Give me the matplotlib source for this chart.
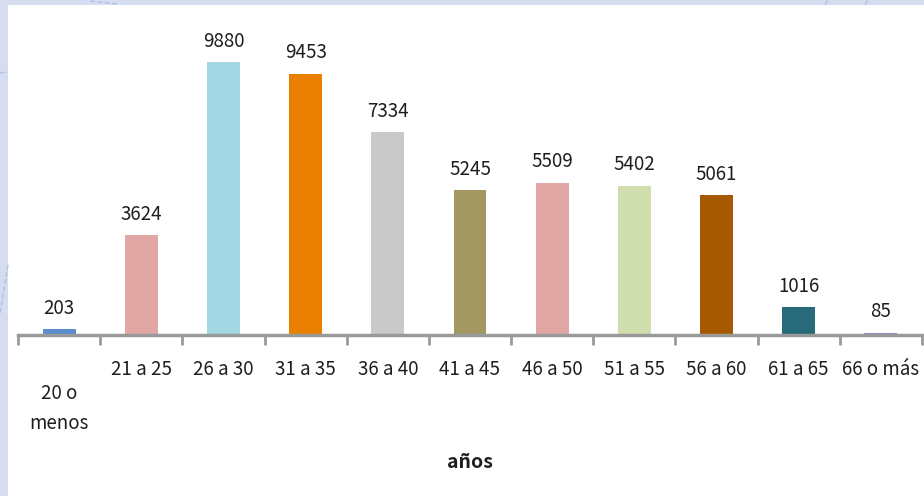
import matplotlib
matplotlib.use('Agg')
import matplotlib.pyplot as plt
import matplotlib.transforms as mtransforms
from matplotlib.patches import Rectangle
from matplotlib.lines import Line2D

categories = ['20 o\nmenos', '21 a 25', '26 a 30', '31 a 35', '36 a 40', '41 a 45',
              '46 a 50', '51 a 55', '56 a 60', '61 a 65', '66 o más']
values = [203, 3624, 9880, 9453, 7334, 5245, 5509, 5402, 5061, 1016, 85]
colors = ['#5b8fcb', '#e2a6a5', '#a4d7e4', '#e98000', '#c9c9c9', '#a39762',
          '#e2a6a5', '#d0ddad', '#a65900', '#276a7a', '#9b7fc7']

plt.rcParams['font.family'] = ['Noto Sans CJK JP', 'DejaVu Sans']

W, H = 924, 496
fig = plt.figure(figsize=(W / 100, H / 100), dpi=100)
fig.patch.set_facecolor('#d6ddf0')

# white panel behind the chart
fig.patches.append(Rectangle((8 / W, 0), 1, 1 - 5 / H, transform=fig.transFigure,
                             facecolor='white', edgecolor='none', zorder=0))
# faint decorative strokes on the background border
for xs, ys in [((90 / W, 118 / W), (1 - 1 / H, 1 - 4 / H)),
               ((0, 8 / W), (1 - 73 / H, 1 - 72 / H)),
               ((0, 8 / W), (1 - 313 / H, 1 - 265 / H)),
               ((825 / W, 828 / W), (1 - 5 / H, 1 - 0 / H)),
               ((865 / W, 868 / W), (1 - 5 / H, 1 - 0 / H))]:
    fig.lines.append(Line2D(xs, ys, transform=fig.transFigure, color='#a9c2e6',
                            lw=1, ls='--', zorder=1))

ax = fig.add_axes([18 / W, 1 - 335 / H, 904 / W, 315 / H])
ax.set_zorder(5)
ax.set_facecolor('none')

x = list(range(len(values)))
bars = ax.bar(x, values, width=0.40, color=colors, zorder=2)
ax.set_xlim(-0.5, len(values) - 0.5)
ax.set_ylim(0, 11400)

for rect, v in zip(bars, values):
    ax.annotate(str(v), (rect.get_x() + rect.get_width() / 2, v),
                xytext=(0, 15), textcoords='offset points', ha='center', va='center',
                fontsize=13.5, color='#1e1e1e')

for side in ['top', 'right', 'left']:
    ax.spines[side].set_visible(False)
ax.spines['bottom'].set_color('#9a9a9a')
ax.spines['bottom'].set_linewidth(2.5)
ax.set_yticks([])

ax.set_xticks(x)
ax.set_xticklabels(categories, fontsize=13.5, color='#1e1e1e', linespacing=1.6)
ax.tick_params(axis='x', which='major', length=0, pad=17)
ax.set_xticks([i - 0.5 for i in range(len(values) + 1)], minor=True)
ax.tick_params(axis='x', which='minor', length=7, width=2, color='#9a9a9a')

# the wrapped first label sits lower than the rest
lbl = ax.get_xticklabels()[0]
lbl.set_transform(lbl.get_transform() + mtransforms.ScaledTranslation(0, -0.24, fig.dpi_scale_trans))

fig.text(470 / W, 1 - 463 / H, 'años', ha='center', va='center', fontsize=14,
         fontweight='bold', color='#1e1e1e')

fig.savefig('out.png', dpi=100, facecolor=fig.get_facecolor())
